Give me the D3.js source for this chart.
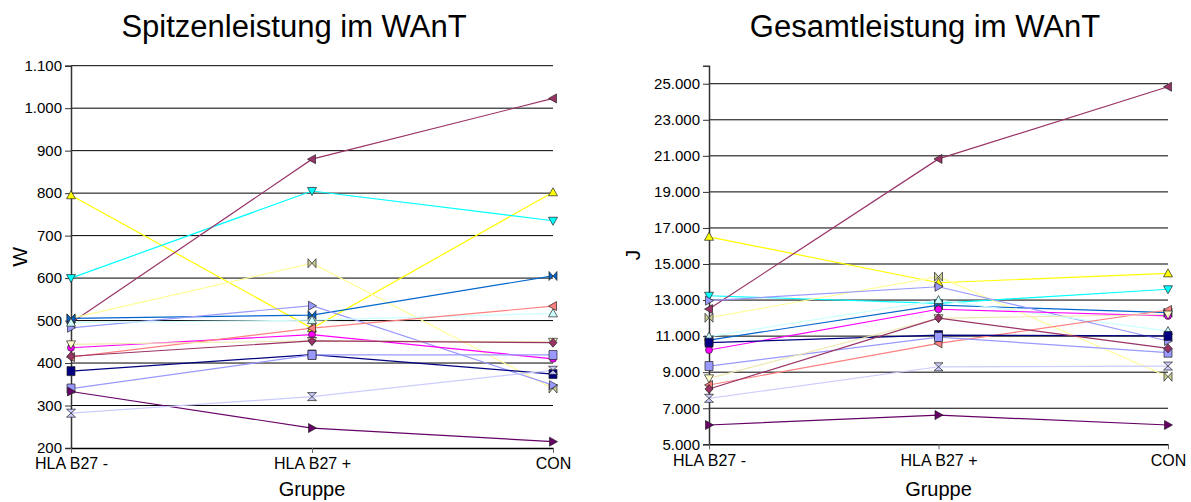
<!DOCTYPE html>
<html><head><meta charset="utf-8">
<script src="https://cdn.jsdelivr.net/npm/d3@7"></script>
<style>body{margin:0;background:#fff}svg{display:block;font-family:Arial,"Liberation Sans",sans-serif}</style>
</head><body>
<svg id="c" width="1191" height="502"></svg>
<script>
// ---- data ----
const categories = ["HLA B27 -", "HLA B27 +", "CON"];
const peakTicks = [200, 300, 400, 500, 600, 700, 800, 900, 1000, 1100];
const totalTicks = [5000, 7000, 9000, 11000, 13000, 15000, 17000, 19000, 21000, 23000, 25000];

// Spitzenleistung (W) per subject line
const peakS01 = [795, 482, 802];
const peakS02 = [600, 805, 735];
const peakS03 = [494, 880, 1023];
const peakS04 = [505, 635, 340];
const peakS05 = [505, 513, 605];
const peakS06 = [483, 535, 348];
const peakS07 = [495, 501, 517];
const peakS08 = [436, 467, 410];
const peakS09 = [414, 482, 534];
const peakS10 = [381, 420, 374];
const peakS11 = [340, 419, 419];
const peakS12 = [333, 247, 215];
const peakS13 = [282, 321, 383];
const peakS14 = [444, 452, 450];
const peakS15 = [416, 452, 448];

// Gesamtleistung (J) per subject line
const totalS01 = [16510, 13960, 14480];
const totalS02 = [13240, 12820, 13600];
const totalS03 = [12500, 20830, 24830];
const totalS04 = [12020, 14300, 8750];
const totalS05 = [10780, 12720, 12300];
const totalS06 = [12970, 13740, 10730];
const totalS07 = [10970, 13000, 11280];
const totalS08 = [10230, 12490, 12120];
const totalS09 = [8290, 10600, 12450];
const totalS10 = [10640, 11060, 11010];
const totalS11 = [9340, 10950, 10080];
const totalS12 = [6070, 6620, 6070];
const totalS13 = [7550, 9300, 9340];
const totalS14 = [8660, 11990, 12200];
const totalS15 = [8070, 12000, 10320];

const peakSeries = [peakS01, peakS02, peakS03, peakS04, peakS05, peakS06, peakS07, peakS08, peakS09, peakS10, peakS11, peakS12, peakS13, peakS14, peakS15];
const totalSeries = [totalS01, totalS02, totalS03, totalS04, totalS05, totalS06, totalS07, totalS08, totalS09, totalS10, totalS11, totalS12, totalS13, totalS14, totalS15];

// ---- styles ----
const lineColors = ["#FFFF00", "#00FFFF", "#993366", "#FFFF99", "#0066CC", "#9999FF", "#CCFFFF", "#FF00FF", "#FF8080", "#000080", "#9999FF", "#660066", "#CCCCFF", "#EEE8B0", "#993366"];
const markerFills = ["#FFFF00", "#00FFFF", "#993366", "#CCCC99", "#0066CC", "#9999FF", "#CCFFFF", "#FF00FF", "#FF8080", "#000080", "#9999FF", "#660066", "#CCCCFF", "#FFFFCC", "#993366"];
const markerShapes = ["triUp", "triDown", "triLeft", "bowtie", "bowtie", "triRight", "triUp", "circle", "triLeft", "square", "square", "triRight", "hourglass", "triDown", "diamond"];

const shapePaths = {
  triUp: "M0,-4.5L4.5,3.5L-4.5,3.5Z",
  triDown: "M0,4.5L4.5,-3.5L-4.5,-3.5Z",
  triLeft: "M-4.5,0L3.5,-4.5L3.5,4.5Z",
  triRight: "M4.5,0L-3.5,-4.5L-3.5,4.5Z",
  bowtie: "M-4,-4.5L4,4.5L4,-4.5L-4,4.5Z",
  hourglass: "M-4.5,-4L4.5,-4L-4.5,4L4.5,4Z",
  square: "M-4,-4.5H4V4.5H-4Z",
  circle: "M3.5,0A3.5,3.5 0 1,1 -3.5,0A3.5,3.5 0 1,1 3.5,0Z",
  diamond: "M0,-4.5L4,0L0,4.5L-4,0Z"
};

const svg = d3.select("#c");
svg.append("rect").attr("width", 1191).attr("height", 502).attr("fill", "#fff");

function drawChart(cfg) {
  const x = d3.scalePoint().domain(categories).range([cfg.x0, cfg.x1]).padding(0);
  const y = d3.scaleLinear().domain(cfg.domain).range([cfg.y1, cfg.y0]);
  const g = svg.append("g");
  const fmt = v => d3.format(",")(v).replace(/,/g, ".");

  // gridlines
  g.append("g").selectAll("line").data(cfg.ticks.filter(t => t !== cfg.domain[0])).join("line")
    .attr("x1", cfg.x0).attr("x2", cfg.x1)
    .attr("y1", d => y(d)).attr("y2", d => y(d))
    .attr("stroke", "#000").attr("stroke-width", 1);

  // y axis
  const ya = g.append("g").attr("transform", `translate(${cfg.x0},0)`)
    .call(d3.axisLeft(y).tickValues(cfg.ticks).tickFormat(fmt).tickSize(6).tickPadding(3));
  ya.select(".domain").attr("stroke", "#333").attr("stroke-width", 1.5);
  ya.selectAll(".tick line").attr("stroke", "#333");
  ya.selectAll("text").attr("font-size", 15).attr("fill", "#000").attr("font-family", "Arial, 'Liberation Sans', sans-serif");

  // x axis
  const xa = g.append("g").attr("transform", `translate(0,${cfg.y1})`)
    .call(d3.axisBottom(x).tickSize(5).tickPadding(5).tickSizeOuter(0));
  xa.select(".domain").attr("stroke", "#000").attr("stroke-width", 1.5);
  xa.selectAll(".tick line").attr("stroke", "#666");
  xa.selectAll("text").attr("font-size", 16).attr("fill", "#000").attr("font-family", "Arial, 'Liberation Sans', sans-serif");

  // lines
  const line = d3.line().x((d, i) => x(categories[i])).y(d => y(d));
  g.append("g").selectAll("path").data(cfg.series).join("path")
    .attr("d", d => line(d)).attr("fill", "none")
    .attr("stroke", (d, i) => lineColors[i]).attr("stroke-width", 1.2);

  // markers
  cfg.series.forEach((s, i) => {
    g.append("g").selectAll("path").data(s).join("path")
      .attr("transform", (d, j) => `translate(${x(categories[j])},${y(d)})`)
      .attr("d", shapePaths[markerShapes[i]])
      .attr("fill", markerFills[i]).attr("stroke", "#222").attr("stroke-width", 0.7);
  });

  // titles
  svg.append("text").attr("x", cfg.titleX).attr("y", 37).attr("text-anchor", "middle")
    .attr("font-size", 31).text(cfg.title);
  svg.append("text").attr("x", (cfg.x0 + cfg.x1) / 2).attr("y", 496).attr("text-anchor", "middle")
    .attr("font-size", 20).text("Gruppe");
  svg.append("text").attr("transform", `translate(${cfg.yTitleX},${(cfg.y0 + cfg.y1) / 2}) rotate(-90)`)
    .attr("text-anchor", "middle").attr("font-size", 21).text(cfg.yTitle);
}

drawChart({
  x0: 71, x1: 553, y0: 65.7, y1: 448, domain: [200, 1100], ticks: peakTicks,
  series: peakSeries, title: "Spitzenleistung im WAnT", titleX: 294, yTitle: "W", yTitleX: 27
});
drawChart({
  x0: 709, x1: 1168, y0: 65.7, y1: 444.3, domain: [5000, 26000], ticks: totalTicks,
  series: totalSeries, title: "Gesamtleistung im WAnT", titleX: 925, yTitle: "J", yTitleX: 640
});
</script>
</body></html>
